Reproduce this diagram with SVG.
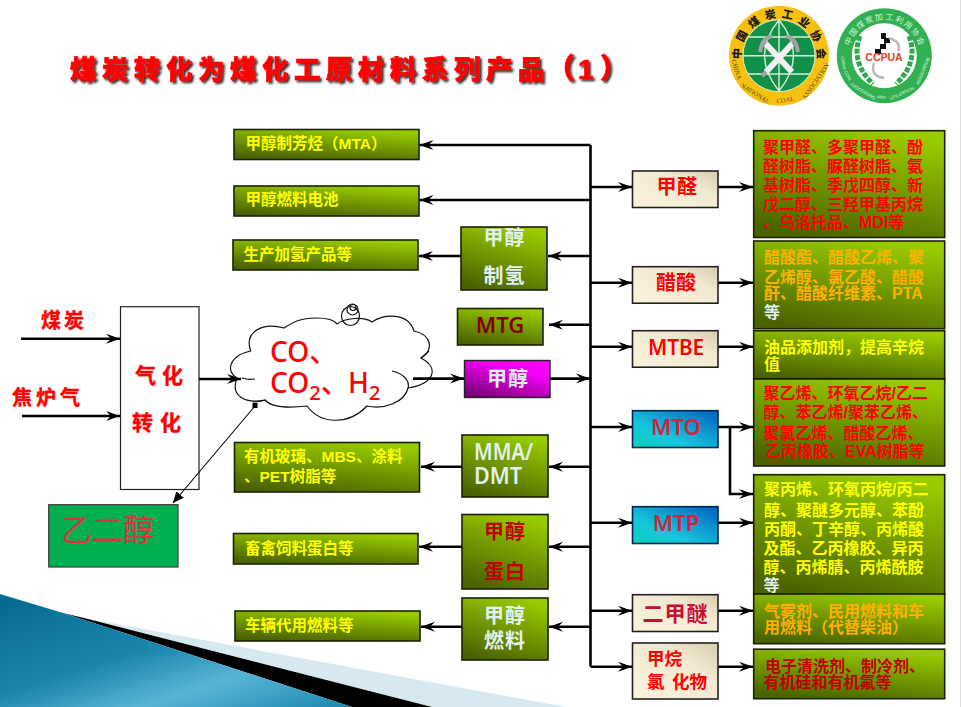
<svg xmlns="http://www.w3.org/2000/svg" width="961" height="707" viewBox="0 0 961 707">
<style>
text{font-family:"Liberation Sans","Noto Sans CJK SC",sans-serif;font-weight:700}
.g{stroke:#1a2200;stroke-width:1.6;fill:url(#green)}
.b{stroke:#222;stroke-width:1.6;fill:url(#beige)}
.t{stroke:#00284a;stroke-width:1.6;fill:url(#teal)}
.s{font-size:15.5px;fill:#ffff00}
.r{font-size:16px}
.y{fill:#ffff00}.o{fill:#ffb000}.d{fill:#ff0000}.c{fill:#c00000}.l{fill:#e2f2f2}
.n{text-anchor:middle;font-size:20px}
.m{font-family:"Noto Sans","Noto Sans CJK SC",sans-serif;font-size:22px;text-anchor:middle;font-weight:600}
.k{fill:none;stroke:#000;stroke-width:2.6}
.k2{fill:none;stroke:#000;stroke-width:2.6;marker-end:url(#a)}
.cl{fill:none;stroke:#111;stroke-width:1.2}
.lg1{font-size:11px;fill:#1a1a1a;text-anchor:middle;font-family:"Noto Sans CJK SC",sans-serif;font-weight:900}
.lg2{font-size:6.5px;fill:#4a4a20;text-anchor:middle;font-family:"Liberation Serif",serif;font-weight:400}
.lg3{font-size:8px;fill:#d4f0da;text-anchor:middle;font-weight:400}
.lg4{font-size:4.3px;fill:#e6f6ea;text-anchor:middle;font-weight:400}
.h{stroke:#ff0000;stroke-width:0.4}
</style>
<defs>
<linearGradient id="green" x1="0.3" y1="1" x2="0.7" y2="0"><stop offset="0" stop-color="#4a6300"/><stop offset="1" stop-color="#99cc00"/></linearGradient>
<linearGradient id="beige" x1="0" y1="1" x2="1" y2="0"><stop offset="0" stop-color="#fcf2dd"/><stop offset="0.65" stop-color="#f2e9d2"/><stop offset="1" stop-color="#d9ccac"/></linearGradient>
<linearGradient id="teal" x1="0" y1="1" x2="1" y2="0"><stop offset="0" stop-color="#0cd0b8"/><stop offset="0.35" stop-color="#18c4dc"/><stop offset="1" stop-color="#0060c0"/></linearGradient>
<linearGradient id="mag" x1="0.2" y1="1" x2="0.8" y2="0"><stop offset="0" stop-color="#780078"/><stop offset="0.7" stop-color="#f000f0"/><stop offset="1" stop-color="#ff00ff"/></linearGradient>
<linearGradient id="blue" x1="0" y1="0" x2="1" y2="1"><stop offset="0" stop-color="#06688e"/><stop offset="0.45" stop-color="#1a86ac"/><stop offset="0.7" stop-color="#58b4d4"/><stop offset="1" stop-color="#1a88b0"/></linearGradient>
<marker id="a" markerUnits="userSpaceOnUse" markerWidth="16" markerHeight="12" refX="14" refY="6" orient="auto"><path d="M0,1 L14,6 L0,11 L5,6z" fill="#000"/></marker>
<marker id="a2" markerUnits="userSpaceOnUse" markerWidth="14" markerHeight="12" refX="11" refY="5" orient="auto"><path d="M0,0 L11,5 L0,10z" fill="#000"/></marker>
<filter id="sh" x="-5%" y="-20%" width="110%" height="150%"><feDropShadow dx="2" dy="2" stdDeviation="0.8" flood-color="#333"/></filter>
</defs>

<g id="background">
<rect width="961" height="707" fill="#fff"/>
<line x1="960.5" y1="0" x2="960.5" y2="707" stroke="#ddd"/>
<polygon points="84,618 566,707 432,707" fill="#d6e8f0"/>
<polygon points="63,613 84,618 432,707 352,707" fill="#000"/>
<polygon points="0,594 63,613 352,707 0,707" fill="url(#blue)"/>
</g>

<text id="title" x="70" y="79" font-size="26.5" letter-spacing="5.5" fill="#ff0000" stroke="#ff0000" stroke-width="0.7" style="font-weight:900" filter="url(#sh)">煤炭转化为煤化工原材料系列产品<tspan x="547" font-size="28" letter-spacing="0">（</tspan><tspan x="578" font-size="28" letter-spacing="0">1</tspan><tspan x="600" font-size="28" letter-spacing="0">）</tspan></text>

<g id="logo-coal">
<circle cx="779" cy="55.7" r="50" fill="#f8c010"/>
<circle cx="779" cy="55.7" r="36" fill="#109048" stroke="#d8f0c0" stroke-width="1"/>
<path d="M743,55.7H815M748,37H810M748,74H810M779,20V91M779,20Q750,55 779,91M779,20Q808,55 779,91" fill="none" stroke="#d8f0d8" stroke-width="1.4"/>
<path d="M766,44L792,72M792,44L766,72" stroke="#f0f0f0" stroke-width="6"/>
<path d="M760,52Q762,38 772,36M798,52Q796,38 786,36M766,72L762,76" fill="none" stroke="#a8a0a8" stroke-width="4"/>
<text class="lg1" x="779" y="17.7" transform="rotate(-87 779 55.7)">中</text>
<text class="lg1" x="779" y="17.7" transform="rotate(-62 779 55.7)">国</text>
<text class="lg1" x="779" y="17.7" transform="rotate(-37 779 55.7)">煤</text>
<text class="lg1" x="779" y="17.7" transform="rotate(-12 779 55.7)">炭</text>
<text class="lg1" x="779" y="17.7" transform="rotate(12 779 55.7)">工</text>
<text class="lg1" x="779" y="17.7" transform="rotate(37 779 55.7)">业</text>
<text class="lg1" x="779" y="17.7" transform="rotate(62 779 55.7)">协</text>
<text class="lg1" x="779" y="17.7" transform="rotate(87 779 55.7)">会</text>
<text class="lg2" x="779" y="102.5" transform="rotate(72 779 55.7)">CHINA</text>
<text class="lg2" x="779" y="102.5" transform="rotate(32 779 55.7)">NATIONAL</text>
<text class="lg2" x="779" y="102.5" transform="rotate(-8 779 55.7)">COAL</text>
<text class="lg2" x="779" y="102.5" transform="rotate(-55 779 55.7)">ASSOCIATION</text>
</g>
<g id="logo-ccpua">
<circle cx="884.3" cy="55.7" r="47.5" fill="#30b050"/>
<circle cx="884.3" cy="55.7" r="32.5" fill="#fff"/>
<path d="M860,36Q850,62 873,84M909,36Q919,62 896,84" fill="none" stroke="#30a850" stroke-width="5" stroke-dasharray="5 1.5"/>
<path d="M875,49h5v-5h4v-5h-3v-6h5v5h4v5h-4v6h-5v5h-6z" fill="#111"/>
<path d="M889,38Q902,42 898,51M874,63Q870,76 884,78" fill="none" stroke="#bbb" stroke-width="2.5"/>
<text x="884" y="60.5" font-size="10.5" fill="#e04020" text-anchor="middle">CCPUA</text>
<text class="lg3" x="884.3" y="19.7" transform="rotate(-68 884.3 55.7)">中</text>
<text class="lg3" x="884.3" y="19.7" transform="rotate(-53 884.3 55.7)">国</text>
<text class="lg3" x="884.3" y="19.7" transform="rotate(-38 884.3 55.7)">煤</text>
<text class="lg3" x="884.3" y="19.7" transform="rotate(-23 884.3 55.7)">炭</text>
<text class="lg3" x="884.3" y="19.7" transform="rotate(-8 884.3 55.7)">加</text>
<text class="lg3" x="884.3" y="19.7" transform="rotate(8 884.3 55.7)">工</text>
<text class="lg3" x="884.3" y="19.7" transform="rotate(23 884.3 55.7)">利</text>
<text class="lg3" x="884.3" y="19.7" transform="rotate(38 884.3 55.7)">用</text>
<text class="lg3" x="884.3" y="19.7" transform="rotate(53 884.3 55.7)">协</text>
<text class="lg3" x="884.3" y="19.7" transform="rotate(68 884.3 55.7)">会</text>
<text class="lg4" x="884.3" y="98.7" transform="rotate(80 884.3 55.7)">CHINA</text>
<text class="lg4" x="884.3" y="98.7" transform="rotate(61 884.3 55.7)">COAL</text>
<text class="lg4" x="884.3" y="98.7" transform="rotate(31 884.3 55.7)">PROCESSING</text>
<text class="lg4" x="884.3" y="98.7" transform="rotate(4 884.3 55.7)">AND</text>
<text class="lg4" x="884.3" y="98.7" transform="rotate(-25 884.3 55.7)">UTILIZATION</text>
<text class="lg4" x="884.3" y="98.7" transform="rotate(-68 884.3 55.7)">ASSOCIATION</text>
</g>

<g id="cloud">
<path d="M250.7,351C244,332 262,322 284,328C296,320 304,318 316,318C328,318 335,321 337,324C345,318 364,316 372,322C384,314 408,312 414,331C432,335 434,350 421,358C440,368 434,384 408,388C405,402 384,410 367,406C350,424 322,426 307,406C290,408 272,408 265,400C245,404 230,396 237,378C226,372 228,356 250.7,351Z" fill="#fff" stroke="#111" stroke-width="1.2"/>
<path class="cl" d="M241.7,378Q248,380 255,379M265,400Q260,402 253,402M392,371C405,374 410,382 408,388M421,358Q426,354 429,351"/>
<ellipse class="cl" cx="350.5" cy="316" rx="9" ry="9.5"/>
<ellipse class="cl" cx="352.5" cy="309.5" rx="5.5" ry="5.5"/>
<ellipse class="cl" cx="353" cy="307.5" rx="3" ry="3"/>
<text x="270" y="362" fill="#ff0000" font-size="28" style="font-family:'Noto Sans','Noto Sans CJK SC',sans-serif;font-weight:500">CO、</text>
<text x="270" y="393" fill="#ff0000" font-size="28" style="font-family:'Noto Sans','Noto Sans CJK SC',sans-serif;font-weight:500">CO<tspan font-size="20" dy="7">2</tspan><tspan dy="-7">、</tspan><tspan x="348">H</tspan><tspan font-size="20" dy="7">2</tspan></text>
</g>

<g id="gasify"><rect x="120.5" y="306.7" width="78.5" height="182.8" fill="#fff" stroke="#222" stroke-width="1.2"/>
<text class="h" x="135" y="383" font-size="21" letter-spacing="6" fill="#ff0000">气化</text>
<text class="h" x="132" y="430" font-size="21" letter-spacing="7" fill="#ff0000">转化</text></g>
<g id="coal-label"><text class="h" x="41" y="328" font-size="20" letter-spacing="3" fill="#ff0000">煤炭</text></g>
<g id="cokegas-label"><text class="h" x="12" y="405" font-size="20" letter-spacing="4" fill="#ff0000">焦炉气</text></g>
<g id="glycol"><rect x="48.7" y="504.7" width="129.3" height="62.3" fill="#00b050" stroke="#444" stroke-width="1.3"/>
<text x="61" y="541" font-size="31" fill="#e03040" style="font-weight:400">乙二醇</text></g>

<g id="out-mta"><rect class="g" x="234" y="129.5" width="185" height="30"/><text class="s" x="245.5" y="148.5">甲醇制芳烃（MTA）</text></g>
<g id="out-fuelcell"><rect class="g" x="234" y="186" width="185" height="30"/><text class="s" x="245.5" y="205">甲醇燃料电池</text></g>
<g id="out-hydro"><rect class="g" x="233" y="240" width="185" height="30"/><text class="s" x="243.5" y="259.5">生产加氢产品等</text></g>
<g id="out-mma"><rect class="g" x="234.5" y="442.5" width="185" height="49.5"/><text class="s" x="244" y="462">有机玻璃、MBS、涂料</text><text class="s" x="244" y="481.5">、PET树脂等</text></g>
<g id="out-feed"><rect class="g" x="233.5" y="533.5" width="184.5" height="30.5"/><text class="s" x="245" y="553.5">畜禽饲料蛋白等</text></g>
<g id="out-vehicle"><rect class="g" x="235" y="611" width="185" height="30"/><text class="s" x="245" y="630.5">车辆代用燃料等</text></g>

<g id="n-h2"><rect class="g" x="461" y="227" width="86" height="63"/><text class="n l" x="504.5" y="245" letter-spacing="1">甲醇</text><text class="n l" x="504.5" y="283" letter-spacing="1">制氢</text></g>
<g id="n-mtg"><rect class="g" x="457.5" y="308.5" width="85.5" height="36.5"/><text class="m" x="500" y="333" fill="#800000">MTG</text></g>
<g id="n-meoh"><rect x="464.5" y="360.5" width="85.5" height="37" fill="url(#mag)" stroke="#222" stroke-width="1.4"/><text class="n l" x="508" y="385.5" letter-spacing="1">甲醇</text></g>
<g id="n-mma"><rect class="g" x="462" y="435" width="86" height="62"/><text x="474" y="460" font-size="23" class="l" textLength="59" lengthAdjust="spacingAndGlyphs" style="font-family:'Noto Sans',sans-serif;font-weight:600">MMA/</text><text x="474" y="484" font-size="23" class="l" textLength="48" lengthAdjust="spacingAndGlyphs" style="font-family:'Noto Sans',sans-serif;font-weight:600">DMT</text></g>
<g id="n-protein"><rect class="g" x="462" y="514.5" width="86" height="74.5"/><text class="n c" x="505" y="539" letter-spacing="1">甲醇</text><text class="n c" x="505" y="578.5" letter-spacing="1">蛋白</text></g>
<g id="n-fuel"><rect class="g" x="462" y="598" width="86" height="62"/><text class="n l" x="505" y="623" letter-spacing="1">甲醇</text><text class="n l" x="505" y="648" letter-spacing="1">燃料</text></g>

<g id="n-hcho"><rect class="b" x="632.5" y="171" width="85.5" height="36.5"/><text class="n d" x="677" y="194" letter-spacing="0.5">甲醛</text></g>
<g id="n-acetic"><rect class="b" x="632.5" y="266.7" width="85.5" height="36.5"/><text class="n d" x="676" y="290">醋酸</text></g>
<g id="n-mtbe"><rect class="b" x="632.5" y="330.7" width="85.5" height="36.5"/><text class="m" x="676" y="355" fill="#ff0000" textLength="56" lengthAdjust="spacingAndGlyphs">MTBE</text></g>
<g id="n-mto"><rect class="t" x="632.5" y="410.7" width="85.5" height="36.8"/><text class="m" x="676" y="434.5" fill="#d82040">MTO</text></g>
<g id="n-mtp"><rect class="t" x="632.5" y="506.7" width="85.5" height="36.8"/><text class="m" x="676" y="531" fill="#d82040">MTP</text></g>
<g id="n-dme"><rect class="b" x="632.5" y="594.7" width="85.5" height="36.8"/><text x="675.5" y="620.5" text-anchor="middle" font-size="21" fill="#c81030" letter-spacing="1">二甲醚</text></g>
<g id="n-cm"><rect class="b" x="632.5" y="643" width="85.5" height="56"/><text x="647" y="665" font-size="17.5" fill="#ff0000">甲烷</text><text x="647" y="688" font-size="17.5" fill="#ff0000">氯<tspan x="672">化物</tspan></text></g>

<g id="r-hcho"><rect class="g" x="753.7" y="130.7" width="191" height="106.8"/>
<g class="r d"><text x="763" y="152.5">聚甲醛、多聚甲醛、酚</text><text x="763" y="172">醛树脂、脲醛树脂、氨</text><text x="763" y="191">基树脂、季戊四醇、新</text><text x="763" y="210">戊二醇、三羟甲基丙烷</text><text x="763" y="228">、乌洛托品、MDI等</text></g></g>
<g id="r-acetic"><rect class="g" x="753.7" y="241" width="191" height="87.7"/>
<g class="r o"><text x="764" y="262.5">醋酸酯、醋酸乙烯、聚</text><text x="764" y="282.5">乙烯醇、氯乙酸、醋酸</text><text x="764" y="299">酐、醋酸纤维素、PTA</text><text x="764" y="317.5" class="l">等</text></g></g>
<g id="r-mtbe"><rect class="g" x="753.7" y="330.7" width="191" height="48"/>
<g class="r y"><text x="764" y="353">油品添加剂，提高辛烷</text><text x="764" y="370">值</text></g></g>
<g id="r-mto"><rect class="g" x="753.7" y="379" width="191" height="87"/>
<g class="r d"><text x="763.5" y="398.5">聚乙烯、环氧乙烷/乙二</text><text x="763.5" y="417.5">醇、苯乙烯/聚苯乙烯、</text><text x="763.5" y="438.5">聚氯乙烯、醋酸乙烯、</text><text x="765" y="456.5">乙丙橡胶、EVA树脂等</text></g></g>
<g id="r-mtp"><rect class="g" x="753.7" y="474.7" width="191" height="119.3"/>
<g class="r y"><text x="764" y="495">聚丙烯、环氧丙烷/丙二</text><text x="764" y="516">醇、聚醚多元醇、苯酚</text><text x="764" y="535">丙酮、丁辛醇、丙烯酸</text><text x="763.5" y="554">及酯、乙丙橡胶、异丙</text><text x="763.5" y="573">醇、丙烯腈、丙烯酰胺</text><text x="763.5" y="591" class="l">等</text></g></g>
<g id="r-dme"><rect class="g" x="753.7" y="594" width="191" height="49.7"/>
<g class="r o"><text x="764" y="616.5">气雾剂、民用燃料和车</text><text x="764" y="633">用燃料（代替柴油）</text></g></g>
<g id="r-cm"><rect class="g" x="753.7" y="649.2" width="191" height="49.5"/>
<g class="r c"><text x="765" y="671.5">电子清洗剂、制冷剂、</text><text x="763.5" y="688">有机硅和有机氟等</text></g></g>

<g id="connectors">
<path class="k" d="M590.5,145V666.5"/>
<path class="k2" d="M590.5,145H419.5"/>
<path class="k2" d="M590.5,200H419.5"/>
<path class="k2" d="M461,256H419"/>
<path class="k2" d="M590.5,256H548"/>
<path class="k2" d="M590.5,324.7H549"/>
<path class="k2" d="M550,378.6H590"/>
<path class="k2" d="M413,378.6H464"/>
<path class="k2" d="M462,466.7H421"/>
<path class="k2" d="M590.5,466.7H549"/>
<path class="k2" d="M462,546.7H419"/>
<path class="k2" d="M590.5,546.7H549"/>
<path class="k2" d="M462,626.7H421"/>
<path class="k2" d="M590.5,626.7H549"/>
<path class="k2" d="M590.5,187H632"/>
<path class="k2" d="M590.5,282.7H632"/>
<path class="k2" d="M590.5,346.7H632"/>
<path class="k2" d="M590.5,427H632"/>
<path class="k2" d="M590.5,522.7H632"/>
<path class="k2" d="M590.5,610.7H632"/>
<path class="k2" d="M590.5,666.7H632"/>
<path class="k2" d="M718.5,187H753"/>
<path class="k2" d="M718.5,282.7H753"/>
<path class="k2" d="M718.5,346.7H753"/>
<path class="k2" d="M718.5,427H753"/>
<path class="k2" d="M718.5,522.7H753"/>
<path class="k2" d="M718.5,610.7H753"/>
<path class="k2" d="M718.5,666.7H753"/>
<path class="k2" d="M730,427V494H753"/>
<path class="k2" d="M21,338.7H120"/>
<path class="k2" d="M22,416H120"/>
<path class="k2" d="M199,379H241"/>
<path d="M255,406L173,503" fill="none" stroke="#000" stroke-width="1.1" marker-end="url(#a2)"/>
<rect x="252.5" y="403" width="5" height="5" fill="#000"/>
</g>
</svg>
